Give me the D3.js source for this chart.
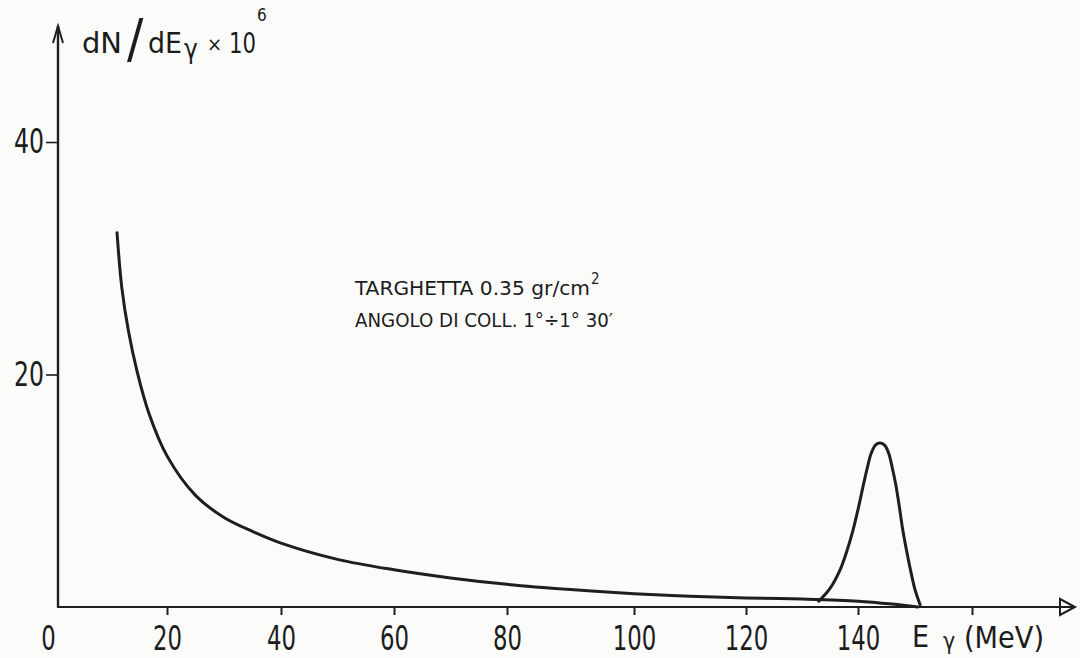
<!DOCTYPE html>
<html>
<head>
<meta charset="utf-8">
<script src="https://cdn.jsdelivr.net/npm/d3@7"></script>
<style>
  html, body { margin: 0; padding: 0; background: #fbfbfa; }
  svg { display: block; }
  text { fill: #1c1c1c; font-family: "DejaVu Sans Condensed", "Liberation Sans Narrow", "DejaVu Sans", sans-serif; }
</style>
</head>
<body>
<svg id="chart" width="1080" height="658"></svg>
<script>
// Photon energy axis (MeV) and its tick labels
const xTickValues = [0, 20, 40, 60, 80, 100, 120, 140, 160];
const xTickLabels = ["0", "20", "40", "60", "80", "100", "120", "140", ""];

// dN/dE axis ticks (x 10^6)
const yTickValues = [20, 40];
const yTickLabels = ["20", "40"];

// Bremsstrahlung-like continuum: energy (MeV) and dN/dE x 10^6
const contEnergy = [11.6, 12.4, 13.5, 15, 17, 20, 25, 30, 35, 40, 50, 60, 70, 80, 90, 100, 110, 120, 130, 140, 146, 150.5];
const contValue  = [32.2, 27.5, 23.8, 20.2, 16.6, 13.0, 9.6, 7.7, 6.5, 5.5, 4.1, 3.2, 2.5, 1.95, 1.5, 1.15, 0.92, 0.78, 0.68, 0.5, 0.25, 0.0];

// Monochromatic peak near 144 MeV
const peakEnergy = [133.0, 135.0, 136.8, 138.0, 139.1, 140.1, 140.9, 141.6, 142.3, 143.1, 143.9, 144.7, 145.4, 146.0, 146.6, 147.2, 147.8, 148.5, 149.2, 150.0, 150.9];
const peakValue  = [0.5, 1.6, 3.2, 4.8, 6.6, 8.6, 10.4, 11.9, 13.2, 13.95, 14.1, 13.9, 13.2, 12.0, 10.6, 8.8, 6.8, 4.9, 3.2, 1.5, 0.2];

const svg = d3.select("#chart");
const ink = "#1e1e1e";

// Hand-ruled axis: tick spacing is not perfectly uniform, so a piecewise scale follows the ruled ticks
const x = d3.scaleLinear()
  .domain(xTickValues)
  .range([48, 167, 281, 394, 507, 634, 746, 858, 972]);
const y = d3.scaleLinear().domain([0, 40]).range([607, 142]);

const x0 = 58;        // vertical axis position
const y0 = y(0);      // horizontal axis position

// Axes lines
svg.append("line").attr("x1", x0).attr("y1", y0).attr("x2", x0).attr("y2", 26)
  .attr("stroke", ink).attr("stroke-width", 2.4);
svg.append("line").attr("x1", x0 - 1).attr("y1", y0).attr("x2", 1073).attr("y2", y0)
  .attr("stroke", ink).attr("stroke-width", 2.2);

// Arrow heads
svg.append("path").attr("d", `M${x0 - 5},${43} L${x0},${26} L${x0 + 5},${43}`)
  .attr("fill", "none").attr("stroke", ink).attr("stroke-width", 2);
svg.append("path").attr("d", `M1060,${y0 - 8} L1075,${y0} L1060,${y0 + 8} Z`)
  .attr("fill", "none").attr("stroke", ink).attr("stroke-width", 2);

// X axis ticks and labels
const xAxis = d3.axisBottom(x)
  .tickValues(xTickValues)
  .tickSize(8)
  .tickPadding(12)
  .tickFormat((d, i) => xTickLabels[i]);
const gx = svg.append("g").attr("transform", `translate(0,${y0})`).call(xAxis);
gx.select(".domain").remove();
gx.selectAll(".tick line").attr("stroke", ink).attr("stroke-width", 2)
  .attr("display", d => d === 0 ? "none" : null);
gx.selectAll(".tick text")
  .attr("fill", "#1c1c1c")
  .attr("font-size", 33)
  .attr("font-family", null)
  .attr("dy", "0.69em")
  .attr("textLength", (d, i) => xTickLabels[i].length * 14.5)
  .attr("lengthAdjust", "spacingAndGlyphs");

// Y axis ticks and labels
const yAxis = d3.axisLeft(y)
  .tickValues(yTickValues)
  .tickSize(12)
  .tickPadding(2)
  .tickFormat((d, i) => yTickLabels[i]);
const gy = svg.append("g").attr("transform", `translate(${x0},0)`).call(yAxis);
gy.select(".domain").remove();
gy.selectAll(".tick line").attr("stroke", ink).attr("stroke-width", 1.6);
gy.selectAll(".tick text")
  .attr("fill", "#1c1c1c")
  .attr("font-size", 33)
  .attr("font-family", null)
  .attr("textLength", (d, i) => yTickLabels[i].length * 15)
  .attr("lengthAdjust", "spacingAndGlyphs");

// Curves
const line = d3.line().x(d => x(d[0])).y(d => y(d[1])).curve(d3.curveCatmullRom.alpha(0.5));
svg.append("path")
  .datum(contEnergy.map((e, i) => [e, contValue[i]]))
  .attr("d", line)
  .attr("fill", "none").attr("stroke", ink).attr("stroke-width", 3).attr("stroke-linecap", "round");
svg.append("path")
  .datum(peakEnergy.map((e, i) => [e, peakValue[i]]))
  .attr("d", line)
  .attr("fill", "none").attr("stroke", ink).attr("stroke-width", 3).attr("stroke-linecap", "round");

// Y axis title: dN/dEγ × 10^6
const yt = svg.append("g");
yt.append("text").attr("x", 82).attr("y", 53).attr("font-size", 29).attr("textLength", 40).attr("lengthAdjust", "spacingAndGlyphs").text("dN");
yt.append("text").attr("x", 127).attr("y", 57).attr("font-size", 54).text("/");
yt.append("text").attr("x", 148).attr("y", 53).attr("font-size", 29).attr("textLength", 34).attr("lengthAdjust", "spacingAndGlyphs").text("dE");
yt.append("text").attr("x", 184).attr("y", 58).attr("font-size", 26).text("γ");
yt.append("text").attr("x", 207).attr("y", 51).attr("font-size", 20).text("×");
yt.append("text").attr("x", 229).attr("y", 53).attr("font-size", 29).attr("textLength", 27).attr("lengthAdjust", "spacingAndGlyphs").text("10");
yt.append("text").attr("x", 257).attr("y", 21).attr("font-size", 17).text("6");

// X axis title: Eγ (MeV)
const xt = svg.append("g");
xt.append("text").attr("x", 912).attr("y", 647).attr("font-size", 30).text("E");
xt.append("text").attr("x", 943).attr("y", 649).attr("font-size", 23).text("γ");
xt.append("text").attr("x", 964).attr("y", 648).attr("font-size", 30).attr("textLength", 80).attr("lengthAdjust", "spacingAndGlyphs").text("(MeV)");

// Target annotation
const ann = svg.append("g");
ann.append("text").attr("x", 355).attr("y", 295).attr("font-size", 20)
  .attr("textLength", 235).attr("lengthAdjust", "spacingAndGlyphs").text("TARGHETTA  0.35 gr/cm");
ann.append("text").attr("x", 591).attr("y", 284).attr("font-size", 15).text("2");
ann.append("text").attr("x", 355).attr("y", 327).attr("font-size", 20)
  .attr("textLength", 258).attr("lengthAdjust", "spacingAndGlyphs").text("ANGOLO  DI  COLL. 1°÷1° 30′");
</script>
</body>
</html>
